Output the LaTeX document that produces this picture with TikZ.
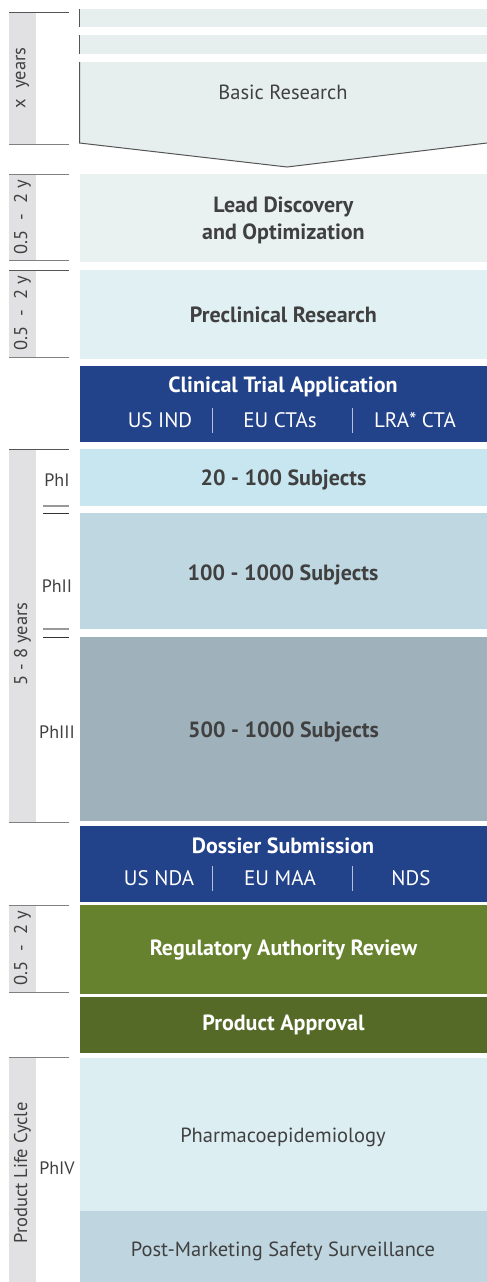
\documentclass[tikz,border=0pt]{standalone}
\usepackage{fontspec}
\setmainfont{PT Sans}
\definecolor{txt}{HTML}{404040}
\definecolor{barfill}{HTML}{E1E1E3}
\definecolor{rulegray}{HTML}{555555}
\definecolor{researchfill}{HTML}{E7EFEE}
\definecolor{leadfill}{HTML}{EAF1F1}
\definecolor{preclinfill}{HTML}{E1F0F2}
\definecolor{appblue}{HTML}{22428A}
\definecolor{sepblue}{HTML}{B4C0DA}
\definecolor{phonefill}{HTML}{C8E6F0}
\definecolor{phtwofill}{HTML}{BFD7E1}
\definecolor{phthreefill}{HTML}{9FB2BC}
\definecolor{reviewfill}{HTML}{67822E}
\definecolor{approvalfill}{HTML}{546A26}
\definecolor{pharmafill}{HTML}{DCEEF2}
\definecolor{postfill}{HTML}{BFD6E0}
\begin{document}
\begin{tikzpicture}[x=1pt,y=-1pt,
  box/.style={rectangle, anchor=north west, inner sep=0pt, minimum width=407.5pt, text=txt, font=\fontsize{20.5}{24}\selectfont},
  boldbox/.style={box, font=\fontsize{22}{27}\selectfont\bfseries},
  whitebox/.style={box, text=white, font=\fontsize{22}{27}\selectfont\bfseries},
  plaintext/.style={text=txt, font=\fontsize{20.5}{24}\selectfont, inner sep=0pt},
  headtext/.style={text=white, font=\fontsize{22}{27}\selectfont\bfseries, inner sep=0pt},
  sublabel/.style={text=white, font=\fontsize{21}{24}\selectfont, inner sep=0pt},
  sideLabel/.style={rotate=90, text=txt, font=\fontsize{18.5}{22}\selectfont, inner sep=0pt},
  phase/.style={text=txt, font=\fontsize{18}{22}\selectfont, inner sep=0pt},
  secrule/.style={draw=rulegray, line width=1pt},
  sep/.style={draw=sepblue, line width=1pt}
]
\useasboundingbox (0,0) rectangle (487,1282);

% ---- time bars on the left ----
\fill[barfill] (9,12) rectangle (36,144);
\node[sideLabel] (lxyears) at (22.5,78) {x\ \ years};
\draw[secrule] (9,12) -- (69,12);
\draw[secrule, draw=gray] (9,144) -- (69,144);

\fill[barfill] (9,174) rectangle (36,260);
\node[sideLabel] (llead) at (22.5,217) {0.5\ \ -\ \ 2\ y};
\draw[secrule, draw=gray] (9,174) -- (69,174);
\draw[secrule, draw=gray] (9,260) -- (69,260);

\fill[barfill] (9,270) rectangle (36,357);
\node[sideLabel] (lpre) at (22.5,313) {0.5\ \ -\ \ 2\ y};
\draw[secrule] (9,270) -- (69,270);
\draw[secrule, draw=gray] (9,357) -- (69,357);

\fill[barfill] (9,449) rectangle (36,822);
\node[sideLabel] (lclin) at (22.5,644) {5 - 8 years};
\draw[secrule] (9,449) -- (69,449);
\draw[secrule, draw=gray] (9,822) -- (69,822);
\draw[draw=gray!80, line width=2pt] (43,505.7) -- (69,505.7);
\draw[secrule, draw=black!80] (43,513.3) -- (69,513.3);
\draw[draw=gray!80, line width=2pt] (43,629.3) -- (69,629.3);
\draw[secrule, draw=black!80] (43,637.3) -- (69,637.3);
\node[phase] (pone) at (57,480) {PhI};
\node[phase] (ptwo) at (57,586) {PhII};
\node[phase] (pthree) at (57,732) {PhIII};

\fill[barfill] (9,905) rectangle (36,992);
\node[sideLabel] (lrev) at (22.5,948) {0.5\ \ -\ \ 2\ y};
\draw[secrule, draw=gray] (9,905) -- (69,905);
\draw[secrule, draw=gray] (9,992) -- (69,992);

\fill[barfill] (9,1057) rectangle (36,1282);
\node[sideLabel] (llife) at (22.5,1173) {Product Life Cycle};
\draw[secrule, draw=gray] (9,1057) -- (69,1057);
\node[phase] (pfour) at (57,1168) {PhIV};

% ---- basic research with chevron ----
\fill[researchfill] (79.5,9) rectangle (487,27);
\fill[researchfill] (79.5,35) rectangle (487,54);
\draw[rulegray, line width=1pt] (79.5,9) -- (79.5,27) (79.5,35) -- (79.5,54);
\fill[researchfill] (79.5,62) -- (487,62) -- (487,143) -- (287,167) -- (79.5,143) -- cycle;
\draw[rulegray, line width=1pt] (79.5,62) -- (79.5,143) -- (287,167) -- (487,143);
\node[plaintext] (basic) at (283,92) {Basic Research};

% ---- phase boxes ----
\node[boldbox, fill=leadfill, minimum height=88pt, align=center, text depth=0pt] (lead) at (79.5,174) {Lead Discovery\\and Optimization};
\node[boldbox, fill=preclinfill, minimum height=89pt] (precl) at (79.5,270) {Preclinical Research};

\node[box, fill=appblue, minimum height=76pt] (cta) at (79.5,366) {};
\node[headtext] (ctatitle) at (283,387) {Clinical Trial Application};
\node[sublabel] (usind) at (160,420) {US IND};
\node[sublabel] (euctas) at (280,420) {EU CTAs};
\node[sublabel] (lracta) at (415,420) {LRA* CTA};
\draw[sep] (212,408) -- (212,433);
\draw[sep] (352,408) -- (352,433);

\node[boldbox, fill=phonefill, minimum height=57pt, text depth=0pt] (ph1) at (79.5,449) {20 - 100 Subjects};
\node[box, fill=phtwofill, minimum height=116pt] (ph2) at (79.5,513) {};
\node[headtext, text=txt] (ph2txt) at (283,575) {100 - 1000 Subjects};
\node[boldbox, fill=phthreefill, minimum height=184pt, text depth=0pt] (ph3) at (79.5,637) {500 - 1000 Subjects};

\node[box, fill=appblue, minimum height=76pt] (doss) at (79.5,826) {};
\node[headtext] (dosstitle) at (283,846) {Dossier Submission};
\node[sublabel] (usnda) at (159,878) {US NDA};
\node[sublabel] (eumaa) at (280,878) {EU MAA};
\node[sublabel] (nds) at (411,878) {NDS};
\draw[sep] (212,866) -- (212,891);
\draw[sep] (352,866) -- (352,891);

\node[whitebox, fill=reviewfill, minimum height=89pt] (review) at (79.5,905) {Regulatory Authority Review};
\node[whitebox, fill=approvalfill, minimum height=56pt] (approval) at (79.5,997) {Product Approval};

\node[box, fill=pharmafill, minimum height=153pt] (pharma) at (79.5,1058) {};
\node[plaintext] (pharmatxt) at (283,1137) {Pharmacoepidemiology};
\node[box, fill=postfill, minimum height=71pt] (post) at (79.5,1211) {};
\node[plaintext] (posttxt) at (283,1251) {Post-Marketing Safety Surveillance};
\end{tikzpicture}
\end{document}
